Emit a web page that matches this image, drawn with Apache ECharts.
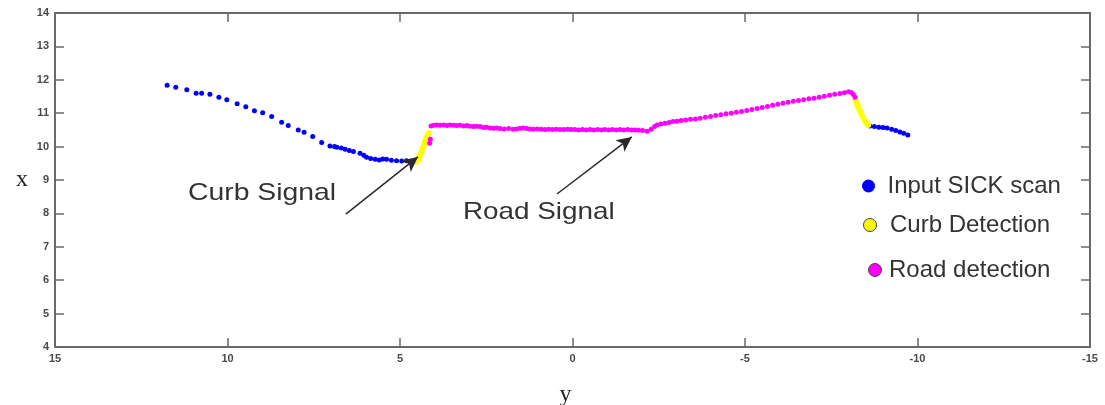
<!DOCTYPE html>
<html>
<head>
<meta charset="utf-8">
<script src="https://cdn.jsdelivr.net/npm/echarts@6/dist/echarts.min.js"></script>
<style>
html,body{margin:0;padding:0;background:#fff;}
#chart{width:1105px;height:405px;}
</style>
</head>
<body>
<div id="chart"></div>
<script>
// ---- data: [y, x] pairs ----
const xTicks = [15, 10, 5, 0, -5, -10, -15];
const yTicks = [4, 5, 6, 7, 8, 9, 10, 11, 12, 13, 14];

const inputScanLeft = [
  [11.75,11.84],[11.50,11.78],[11.18,11.70],[10.91,11.60],[10.75,11.60],[10.51,11.57],
  [10.25,11.48],[10.02,11.40],[9.72,11.28],[9.47,11.19],[9.22,11.07],[8.98,11.01],
  [8.72,10.90],[8.43,10.73],[8.24,10.63],[7.95,10.50],[7.78,10.43],[7.53,10.30],
  [7.27,10.12],[7.03,10.02],[6.90,10.00],[6.83,9.98],[6.70,9.96],[6.59,9.92],
  [6.47,9.88],[6.35,9.85],[6.16,9.80],[6.05,9.74],[5.97,9.68],[5.85,9.64],
  [5.72,9.62],[5.60,9.60],[5.50,9.63],[5.39,9.62],[5.25,9.59],[5.10,9.58],
  [4.95,9.57],[4.81,9.58],[4.68,9.56],[4.55,9.60]
];
const inputScanRight = [
  [-8.62,10.62],[-8.75,10.60],[-8.88,10.58],[-9.00,10.57],[-9.12,10.56],
  [-9.25,10.52],[-9.37,10.48],[-9.49,10.44],[-9.60,10.40],[-9.72,10.35]
];
const curbLeft = [
  [4.52,9.55],[4.47,9.62],[4.44,9.70],[4.40,9.78],[4.37,9.87],[4.34,9.95],
  [4.31,10.03],[4.29,10.10],[4.27,10.18],[4.24,10.26],[4.20,10.33],[4.16,10.40]
];
const curbRight = [
  [-8.20,11.40],[-8.23,11.32],[-8.26,11.24],[-8.29,11.16],[-8.33,11.07],
  [-8.37,10.98],[-8.42,10.88],[-8.47,10.79],[-8.52,10.71],[-8.57,10.65]
];
const roadPoints = [
  [4.14,10.10],[4.12,10.22],[4.10,10.62],[4.02,10.64],[3.94,10.65],[3.84,10.64],
  [3.74,10.65],[3.64,10.63],[3.55,10.65],[3.45,10.64],[3.36,10.63],[3.26,10.64],
  [3.16,10.62],[3.06,10.63],[2.97,10.61],[2.87,10.60],[2.78,10.61],[2.68,10.60],
  [2.58,10.57],[2.49,10.58],[2.39,10.56],[2.29,10.55],[2.20,10.56],[2.10,10.54],
  [1.98,10.53],[1.85,10.54],[1.72,10.52],[1.62,10.53],[1.52,10.55],[1.43,10.56],
  [1.33,10.54],[1.24,10.53],[1.14,10.52],[1.02,10.53],[0.91,10.52],[0.80,10.51],
  [0.69,10.52],[0.58,10.51],[0.47,10.52],[0.36,10.51],[0.25,10.51],[0.14,10.52],
  [0.04,10.51],[-0.07,10.51],[-0.18,10.50],[-0.29,10.51],[-0.40,10.50],[-0.51,10.51],
  [-0.62,10.50],[-0.73,10.51],[-0.84,10.50],[-0.94,10.51],[-1.05,10.50],[-1.16,10.51],
  [-1.27,10.50],[-1.38,10.51],[-1.49,10.50],[-1.60,10.51],[-1.71,10.50],[-1.81,10.50],
  [-1.92,10.49],[-2.03,10.48],[-2.16,10.46],[-2.28,10.52],[-2.38,10.60],[-2.45,10.65],
  [-2.56,10.68],[-2.68,10.70],[-2.80,10.72],[-2.91,10.75],[-3.03,10.76],[-3.15,10.78],
  [-3.28,10.80],[-3.42,10.82],[-3.56,10.83],[-3.70,10.85],[-3.85,10.88],[-4.00,10.90],
  [-4.15,10.93],[-4.30,10.95],[-4.45,10.98],[-4.60,11.00],[-4.75,11.03],[-4.90,11.05],
  [-5.05,11.08],[-5.20,11.11],[-5.35,11.14],[-5.50,11.17],[-5.65,11.20],[-5.80,11.24],
  [-5.95,11.27],[-6.10,11.30],[-6.25,11.33],[-6.40,11.36],[-6.55,11.38],[-6.70,11.40],
  [-6.85,11.43],[-7.00,11.45],[-7.15,11.48],[-7.30,11.51],[-7.45,11.54],[-7.60,11.57],
  [-7.75,11.59],[-7.88,11.61],[-8.00,11.64],[-8.08,11.62],[-8.14,11.56],[-8.19,11.48]
];
// annotation arrows: [start, end] in data coords
const curbArrow = [[6.57,7.98],[4.48,9.69]];
const roadArrow = [[0.45,8.58],[-1.72,10.29]];

const seriesNames = ['Input SICK scan', 'Curb Detection', 'Road detection'];
const seriesColors = ['#0000ff', '#ffff00', '#ff00ff'];

const chart = echarts.init(document.getElementById('chart'), null, {renderer: 'canvas'});

const axisLineStyle = {color: '#6a6a6a', width: 2};
const labelStyle = {color: '#4a4a4a', fontSize: 11, fontWeight: 'bold', fontFamily: 'Liberation Sans, Arial, sans-serif'};

const legendBase = {
  orient: 'vertical', padding: 0, itemWidth: 14, itemHeight: 13, icon: 'circle',
  selectedMode: false,
  textStyle: {fontSize: 24, color: '#333', fontFamily: 'Liberation Sans, Arial, sans-serif', lineHeight: 26}
};

const option = {
  animation: false,
  backgroundColor: '#ffffff',
  grid: {left: 55, right: 15, top: 13, bottom: 58, containLabel: false, outerBoundsMode: 'none'},
  xAxis: [
    {
      type: 'value', inverse: true, min: -15, max: 15, interval: 5, position: 'bottom',
      name: 'y', nameLocation: 'middle', nameGap: 36,
      nameTextStyle: {fontFamily: 'Liberation Serif, DejaVu Serif, serif', fontSize: 24, color: '#222', padding: [0, 14, 0, 0]},
      axisLine: {show: true, lineStyle: axisLineStyle, onZero: false},
      axisTick: {show: true, inside: true, length: 9, lineStyle: {color: '#6a6a6a', width: 1.5}},
      axisLabel: Object.assign({margin: 6, formatter: v => String(v)}, labelStyle),
      splitLine: {show: false}
    },
    {
      type: 'value', inverse: true, min: -15, max: 15, interval: 5, position: 'top',
      axisLine: {show: true, lineStyle: axisLineStyle, onZero: false},
      axisTick: {show: true, inside: true, length: 9, lineStyle: {color: '#6a6a6a', width: 1.5}},
      axisLabel: {show: false}, splitLine: {show: false}
    }
  ],
  yAxis: [
    {
      type: 'value', min: 4, max: 14, interval: 1, position: 'left',
      name: 'x', nameLocation: 'middle', nameGap: 27, nameRotate: 0,
      nameTextStyle: {fontFamily: 'Liberation Serif, DejaVu Serif, serif', fontSize: 24, color: '#222', padding: [16, 0, 0, 0]},
      axisLine: {show: true, lineStyle: axisLineStyle, onZero: false},
      axisTick: {show: true, inside: true, length: 9, lineStyle: {color: '#6a6a6a', width: 1.5}},
      axisLabel: Object.assign({margin: 6}, labelStyle),
      splitLine: {show: false}
    },
    {
      type: 'value', min: 4, max: 14, interval: 1, position: 'right',
      axisLine: {show: true, lineStyle: axisLineStyle, onZero: false},
      axisTick: {show: true, inside: true, length: 9, lineStyle: {color: '#6a6a6a', width: 1.5}},
      axisLabel: {show: false}, splitLine: {show: false}
    }
  ],
  legend: [
    Object.assign({}, legendBase, {left: 862, top: 173,
      data: [{name: seriesNames[0]}],
      textStyle: Object.assign({}, legendBase.textStyle, {padding: [0,0,0,7]})}),
    Object.assign({}, legendBase, {left: 863, top: 212,
      data: [{name: seriesNames[1], itemStyle: {borderColor: '#444', borderWidth: 1}}],
      textStyle: Object.assign({}, legendBase.textStyle, {padding: [0,0,0,8]})}),
    Object.assign({}, legendBase, {left: 868, top: 257,
      data: [{name: seriesNames[2], itemStyle: {borderColor: '#444', borderWidth: 1}}],
      textStyle: Object.assign({}, legendBase.textStyle, {padding: [0,0,0,2]})})
  ],
  series: [
    {
      name: seriesNames[0], type: 'scatter', symbol: 'circle', symbolSize: 5,
      itemStyle: {color: seriesColors[0], opacity: 1},
      data: inputScanLeft.concat(inputScanRight), z: 2
    },
    {
      name: seriesNames[1], type: 'scatter', symbol: 'circle', symbolSize: 6,
      itemStyle: {color: seriesColors[1], opacity: 1},
      data: curbLeft.concat(curbRight), z: 3
    },
    {
      name: seriesNames[2], type: 'scatter', symbol: 'circle', symbolSize: 5,
      itemStyle: {color: seriesColors[2], opacity: 1},
      data: roadPoints, z: 4
    },
    {
      name: 'annotations', type: 'scatter', data: [], silent: true,
      markLine: {
        silent: true, symbol: ['none', 'arrow'], symbolSize: [11, 15], animation: false,
        label: {show: false},
        lineStyle: {color: '#2a2a2a', width: 1.5, type: 'solid'},
        emphasis: {disabled: true},
        data: [
          [{coord: curbArrow[0]}, {coord: curbArrow[1]}],
          [{coord: roadArrow[0]}, {coord: roadArrow[1]}]
        ]
      }
    }
  ],
  graphic: [
    {type: 'text', x: 188, y: 193, scaleX: 1.18, originX: 0,
     style: {text: 'Curb Signal', font: '24px "Liberation Sans", Arial, sans-serif', fill: '#333', textVerticalAlign: 'middle', textAlign: 'left'}},
    {type: 'text', x: 463, y: 212, scaleX: 1.16, originX: 0,
     style: {text: 'Road Signal', font: '24px "Liberation Sans", Arial, sans-serif', fill: '#333', textVerticalAlign: 'middle', textAlign: 'left'}}
  ]
};
chart.setOption(option);
</script>
</body>
</html>
